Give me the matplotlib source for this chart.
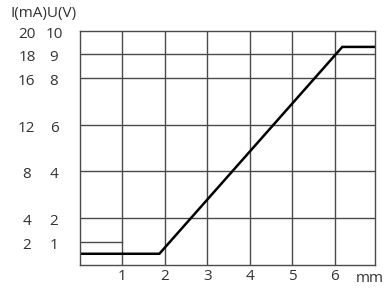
import matplotlib.pyplot as plt

# readings (voltage scale U in V, current I = 2*U in mA)
stroke_mm = [0.03, 1.87, 6.18, 6.95]
signal_u = [0.48, 0.48, 9.32, 9.32]

x_ticks = [1, 2, 3, 4, 5, 6]
u_grid = [2, 4, 6, 8, 9]
i_labels = ['20', '18', '16', '12', '8', '4', '2']
u_labels = ['10', '9', '8', '6', '4', '2', '1']
u_levels = [10, 9, 8, 6, 4, 2, 1]

plt.rcParams['font.family'] = ['Open Sans', 'DejaVu Sans']
txt = '#333333'
line_col = '#4a4a4a'

fig = plt.figure(figsize=(3.9, 2.9), dpi=100)
ax = fig.add_axes([80 / 390, 1 - 265 / 290, 295 / 390, 234 / 290])
ax.set_xlim(0, 6.95)
ax.set_ylim(0, 10)

for xv in x_ticks:
    ax.axvline(xv, color=line_col, lw=1.0)
for uv in u_grid:
    ax.axhline(uv, color=line_col, lw=1.0)
# short reference mark at 1 V
ax.plot([0, 1], [1, 1], color=line_col, lw=1.0)

ax.plot(stroke_mm, signal_u, color='black', lw=1.8, solid_joinstyle='miter')

for s in ax.spines.values():
    s.set_color(line_col)
    s.set_linewidth(1.0)

ax.set_xticks(x_ticks)
ax.set_xticklabels([str(v) for v in x_ticks], color=txt, fontsize=11)
ax.set_yticks([])
ax.tick_params(axis='x', length=0, pad=3)

tr = ax.get_yaxis_transform()
for il, ul, uv in zip(i_labels, u_labels, u_levels):
    yv = uv - 0.15
    ax.text(-0.18, yv, il, transform=tr, ha='center', va='center', fontsize=11, color=txt)
    ax.text(-0.088, yv, ul, transform=tr, ha='center', va='center', fontsize=11, color=txt)

fig.text(44 / 390, 1 - 14 / 290, 'I(mA)U(V)', ha='center', va='center', fontsize=11, color=txt)
fig.text(370 / 390, 1 - 278 / 290, 'mm', ha='center', va='center', fontsize=11, color=txt)

fig.savefig('out.png', dpi=100)
